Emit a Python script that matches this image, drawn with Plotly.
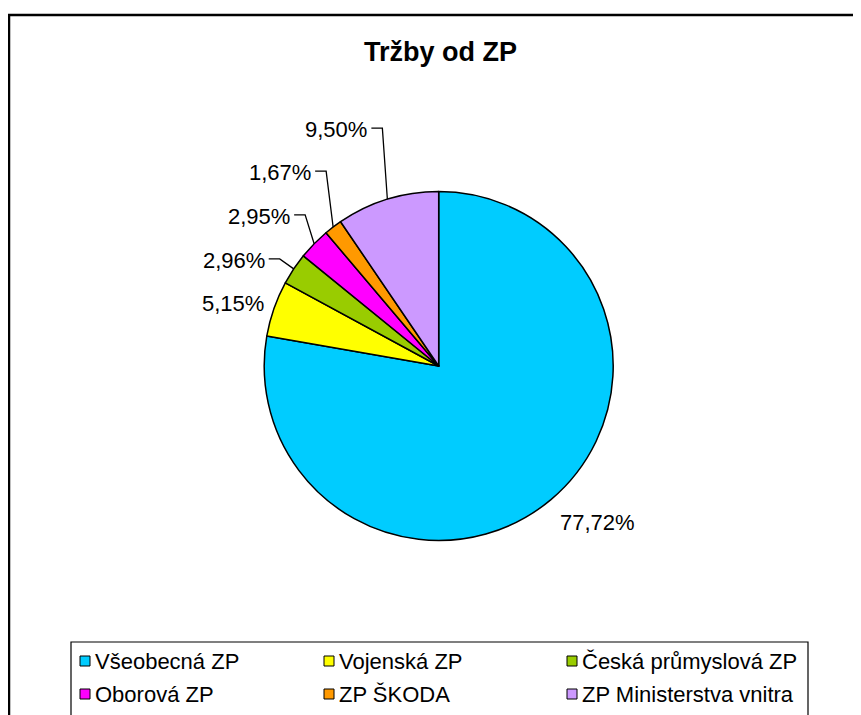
import math
import plotly.graph_objects as go

# ---- data ----
categories = ["Všeobecná ZP", "Vojenská ZP", "Česká průmyslová ZP",
              "Oborová ZP", "ZP ŠKODA", "ZP Ministerstva vnitra"]
shares = [77.72, 5.15, 2.96, 2.95, 1.67, 9.50]
colors = ["#00CCFF", "#FFFF00", "#99CC00", "#FF00FF", "#FF9900", "#CC99FF"]
title_text = "Tržby od ZP"

# ---- layout constants (page pixels) ----
W, H = 861, 715
OFF = 8  # default page body margin around the plot div
CX, CY, R = 438.7, 366.0, 174.5
FONT = "Liberation Sans, Arial, sans-serif"
LABEL_SIZE = 22

# label placement: ("leader", knee dx, knee dy) relative to slice edge point,
# or ("free", dx, dy, xanchor) for labels without leader lines
label_layout = [
    ("free", 7, 23, "left"),
    ("free", -8, -5.5, "right"),
    ("leader", -14, -10),
    ("leader", -9, -29),
    ("leader", -7, -56),
    ("leader", -5, -71),
]


def px(x):
    return (x - OFF) / W


def py(y):
    return 1 - (y - OFF) / H


def fmt(v):
    return f"{v:.2f}".replace(".", ",") + "%"


total = sum(shares)

fig = go.Figure()
fig.add_trace(go.Pie(
    labels=categories,
    values=shares,
    marker=dict(colors=colors, line=dict(color="black", width=1.5)),
    sort=False,
    direction="clockwise",
    rotation=0,
    textinfo="none",
    hoverinfo="label+percent",
    showlegend=False,
    domain=dict(x=[px(CX - R), px(CX + R)], y=[py(CY + R), py(CY - R)]),
))

annotations = []
shapes = []

# outer chart frame (extends past the visible window on right/bottom)
shapes.append(dict(type="rect", xref="paper", yref="paper",
                   x0=px(9), y0=py(15), x1=px(W + 30), y1=py(H + 30),
                   line=dict(color="black", width=2.5), layer="below"))

# title
annotations.append(dict(x=px(440.5), y=py(52), xref="paper", yref="paper",
                        text=f"<b>{title_text}</b>", showarrow=False,
                        xanchor="center", yanchor="middle",
                        font=dict(family=FONT, size=27, color="black")))

# data labels computed from slice mid-angles
cum = 0.0
for i, v in enumerate(shares):
    mid = (cum + v / 2) / total
    cum += v
    th = 2 * math.pi * mid
    ex = CX + R * math.sin(th)
    ey = CY - R * math.cos(th)
    lay = label_layout[i]
    if lay[0] == "free":
        tx, ty, anchor = ex + lay[1], ey + lay[2], lay[3]
    else:
        kx, ky = ex + lay[1], ey + lay[2]
        sx = kx - 11
        shapes.append(dict(type="path", xref="paper", yref="paper",
                           path=f"M {px(sx)},{py(ky)} L {px(kx)},{py(ky)} L {px(ex)},{py(ey)}",
                           line=dict(color="black", width=1.3)))
        tx, ty, anchor = sx - 2, ky + 1.5, "right"
    annotations.append(dict(x=px(tx), y=py(ty), xref="paper", yref="paper",
                            text=fmt(v), showarrow=False,
                            xanchor=anchor, yanchor="middle",
                            font=dict(family=FONT, size=LABEL_SIZE, color="black")))

# legend box (bottom cut off by the window)
LEG_L, LEG_R, LEG_T = 71, 808, 642
shapes.append(dict(type="rect", xref="paper", yref="paper",
                   x0=px(LEG_L), y0=py(LEG_T), x1=px(LEG_R), y1=py(H + 30),
                   line=dict(color="black", width=1.2), fillcolor="white", layer="below"))
col_x = [80, 324, 567]
row_y = [661, 694]
MS = 10
for i, (name, col) in enumerate(zip(categories, colors)):
    r, c = divmod(i, 3)
    mx, my = col_x[c], row_y[r]
    shapes.append(dict(type="rect", xref="paper", yref="paper",
                       x0=px(mx), y0=py(my + MS / 2), x1=px(mx + MS), y1=py(my - MS / 2),
                       line=dict(color="black", width=1), fillcolor=col))
    annotations.append(dict(x=px(mx + MS + 3), y=py(my), xref="paper", yref="paper",
                            text=name, showarrow=False,
                            xanchor="left", yanchor="middle",
                            font=dict(family=FONT, size=LABEL_SIZE, color="black")))

fig.update_layout(
    width=W, height=H, autosize=False,
    margin=dict(l=0, r=0, t=0, b=0),
    paper_bgcolor="white", plot_bgcolor="white",
    showlegend=False,
    shapes=shapes, annotations=annotations,
)

fig.write_html("out.html")
